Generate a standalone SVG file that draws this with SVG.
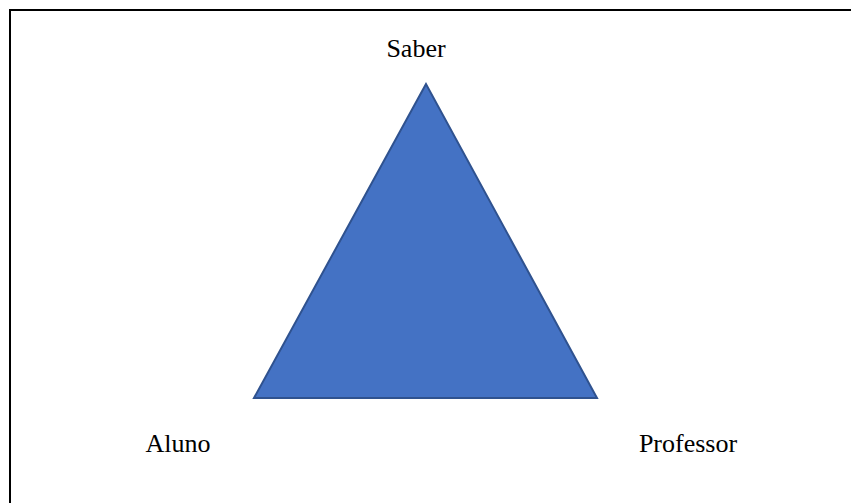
<svg xmlns="http://www.w3.org/2000/svg" width="851" height="503" viewBox="0 0 851 503">
<style>
.lbl{font-family:"Liberation Serif","Times New Roman",serif;font-size:26px;fill:#000}
.frame{stroke:#000;stroke-width:2;fill:none}
</style>
<rect x="0" y="0" width="851" height="503" fill="#fff"/>
<g id="frame">
<path class="frame" d="M10,503 V10 H851"/>
</g>
<g id="connectors"></g>
<g id="triangle">
<polygon points="426,84 254,398 597,398" fill="#4472C4" stroke="#2F528F" stroke-width="2" stroke-linejoin="miter"/>
</g>
<g id="saber"><text class="lbl" x="416" y="57" text-anchor="middle">Saber</text></g>
<g id="aluno"><text class="lbl" x="178" y="452" text-anchor="middle">Aluno</text></g>
<g id="professor"><text class="lbl" x="688" y="452" text-anchor="middle">Professor</text></g>
</svg>
